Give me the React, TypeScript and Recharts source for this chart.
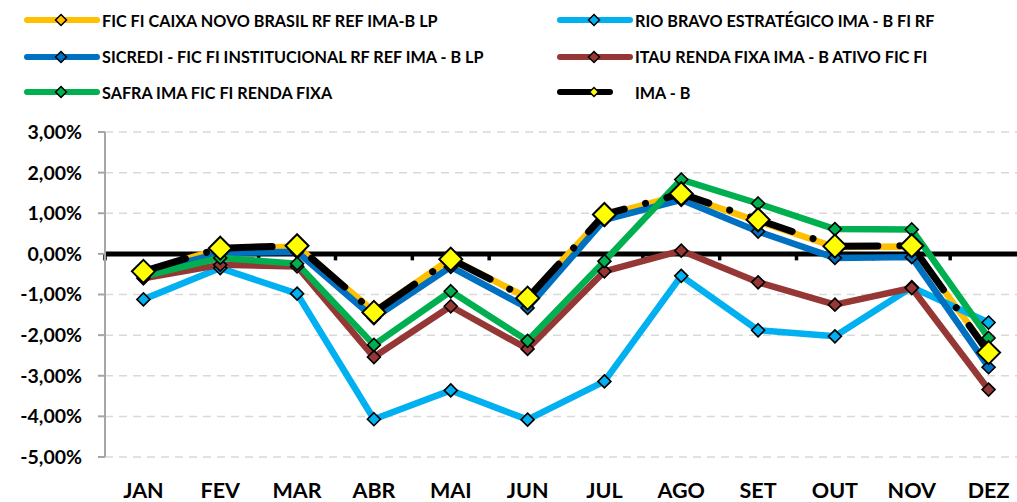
import React from 'react';
import { LineChart, Line, XAxis, YAxis, CartesianGrid, ReferenceLine } from 'recharts';

const months = ['JAN', 'FEV', 'MAR', 'ABR', 'MAI', 'JUN', 'JUL', 'AGO', 'SET', 'OUT', 'NOV', 'DEZ'];
const caixa = [-0.43, 0.12, 0.18, -1.42, -0.12, -1.08, 0.95, 1.45, 0.8, 0.17, 0.18, -2.4];
const rioBravo = [-1.12, -0.35, -0.98, -4.07, -3.36, -4.08, -3.14, -0.54, -1.88, -2.03, -0.82, -1.69];
const sicredi = [-0.47, 0.02, 0.05, -1.58, -0.32, -1.33, 0.84, 1.33, 0.55, -0.1, -0.08, -2.79];
const itau = [-0.6, -0.27, -0.31, -2.54, -1.29, -2.34, -0.43, 0.08, -0.7, -1.25, -0.84, -3.34];
const safra = [-0.55, -0.1, -0.24, -2.24, -0.92, -2.14, -0.18, 1.83, 1.24, 0.61, 0.6, -2.07];
const imaB = [-0.43, 0.14, 0.2, -1.44, -0.13, -1.09, 0.97, 1.48, 0.84, 0.19, 0.2, -2.43];
const yTicks = [-5, -4, -3, -2, -1, 0, 1, 2, 3];

const series = [
  { key: 'caixa', name: 'FIC FI CAIXA NOVO BRASIL RF REF IMA-B LP', color: '#FFC000', values: caixa },
  { key: 'rioBravo', name: 'RIO BRAVO ESTRATÉGICO IMA - B FI RF', color: '#00B0F0', values: rioBravo },
  { key: 'sicredi', name: 'SICREDI - FIC FI INSTITUCIONAL RF REF IMA - B LP', color: '#0070C0', values: sicredi },
  { key: 'itau', name: 'ITAU RENDA FIXA IMA - B ATIVO FIC FI', color: '#953735', values: itau },
  { key: 'safra', name: 'SAFRA IMA FIC FI RENDA FIXA', color: '#00B050', values: safra },
  { key: 'imaB', name: 'IMA - B', color: '#000000', values: imaB },
];

const data = months.map((m, i) => {
  const row: Record<string, number | string> = { x: i, month: m };
  series.forEach((s) => {
    row[s.key] = s.values[i];
  });
  return row;
});

const boundaries = months.map((_, i) => i - 0.5).concat([months.length - 0.5]);

const FONT = 'Lato, "Open Sans", sans-serif';

const diamond = (half: number, fill: string, sw: number) => (props: any) => {
  const { cx, cy, index } = props;
  if (cx == null || cy == null) return <g key={`d-${index}`} />;
  return (
    <path
      key={`d-${index}`}
      d={`M${cx},${cy - half} L${cx + half},${cy} L${cx},${cy + half} L${cx - half},${cy} Z`}
      fill={fill}
      stroke="#000"
      strokeWidth={sw}
    />
  );
};

const fmt = (v: number) => `${v.toFixed(2).replace('.', ',')}%`;

const legendPos = [
  { lx: 24, ly: 20 },
  { lx: 557, ly: 20 },
  { lx: 24, ly: 56.5 },
  { lx: 557, ly: 56.5 },
  { lx: 24, ly: 92 },
  { lx: 557, ly: 92 },
];

function LegendItem({ s, lx, ly }: { s: any; lx: number; ly: number }) {
  const isIma = s.key === 'imaB';
  const lineEnd = isIma ? 53 : 73;
  return (
    <div style={{ position: 'absolute', left: lx, top: ly - 12, height: 24, display: 'flex', alignItems: 'center' }}>
      <svg width={76} height={24} style={{ display: 'block' }}>
        <line x1={3} y1={12} x2={lineEnd} y2={12} stroke={s.color} strokeWidth={6} strokeLinecap="round" />
        <path
          d={isIma ? 'M37,7.5 L41.5,12 L37,16.5 L32.5,12 Z' : 'M37,6.5 L42.5,12 L37,17.5 L31.5,12 Z'}
          fill={isIma ? '#FFFF00' : s.color}
          stroke="#000"
          strokeWidth={1.5}
        />
      </svg>
      <span style={{ fontFamily: FONT, fontWeight: 700, fontSize: 16.2, color: '#000', marginLeft: 2, whiteSpace: 'nowrap' }}>
        {s.name}
      </span>
    </div>
  );
}

export default function App() {
  return (
    <div style={{ position: 'absolute', left: 0, top: 0, width: 1017, height: 502, overflow: 'hidden', background: '#fff' }}>
      {series.map((s, i) => (
        <LegendItem key={s.key} s={s} lx={legendPos[i].lx} ly={legendPos[i].ly} />
      ))}
      <div style={{ position: 'absolute', left: 0, top: 0 }}>
        <LineChart width={1040} height={502} data={data} margin={{ top: 132, right: 13, bottom: 0, left: 0 }}>
          <CartesianGrid horizontal vertical={false} stroke="#D9D9D9" strokeWidth={1.5} strokeDasharray="8 6" />
          <XAxis
            type="number"
            dataKey="x"
            domain={[-0.5, 11.5]}
            ticks={months.map((_, i) => i)}
            interval={0}
            tickFormatter={(i: number) => months[i]}
            axisLine={false}
            tickLine={false}
            tickSize={0}
            tickMargin={26}
            height={45}
            tick={{ fill: '#000', fontFamily: FONT, fontWeight: 700, fontSize: 21.5 }}
          />
          <YAxis
            type="number"
            domain={[-5, 3]}
            ticks={yTicks}
            interval={0}
            tickFormatter={fmt}
            width={105}
            axisLine={{ stroke: '#A6A6A6', strokeWidth: 2 }}
            tickLine={{ stroke: '#A6A6A6', strokeWidth: 2 }}
            tickSize={7}
            tickMargin={16}
            tick={{ fill: '#000', fontFamily: FONT, fontWeight: 700, fontSize: 19.5 }}
          />
          <ReferenceLine y={0} stroke="#000" strokeWidth={5} />
          {boundaries.map((b) => (
            <ReferenceLine
              key={`b-${b}`}
              segment={[
                { x: b, y: 0 },
                { x: b, y: -0.16 },
              ]}
              stroke="#000"
              strokeWidth={3.5}
            />
          ))}
          {series.map((s) =>
            s.key === 'imaB' ? (
              <Line
                key={s.key}
                dataKey={s.key}
                stroke="#000"
                strokeWidth={7}
                strokeDasharray="44 22 0.1 22"
                strokeLinecap="round"
                dot={diamond(11.5, '#FFFF00', 2)}
                activeDot={false}
                isAnimationActive={false}
              />
            ) : (
              <Line
                key={s.key}
                dataKey={s.key}
                stroke={s.color}
                strokeWidth={6.5}
                strokeLinejoin="round"
                dot={diamond(6.5, s.color, 1.6)}
                activeDot={false}
                isAnimationActive={false}
              />
            )
          )}
        </LineChart>
      </div>
    </div>
  );
}
